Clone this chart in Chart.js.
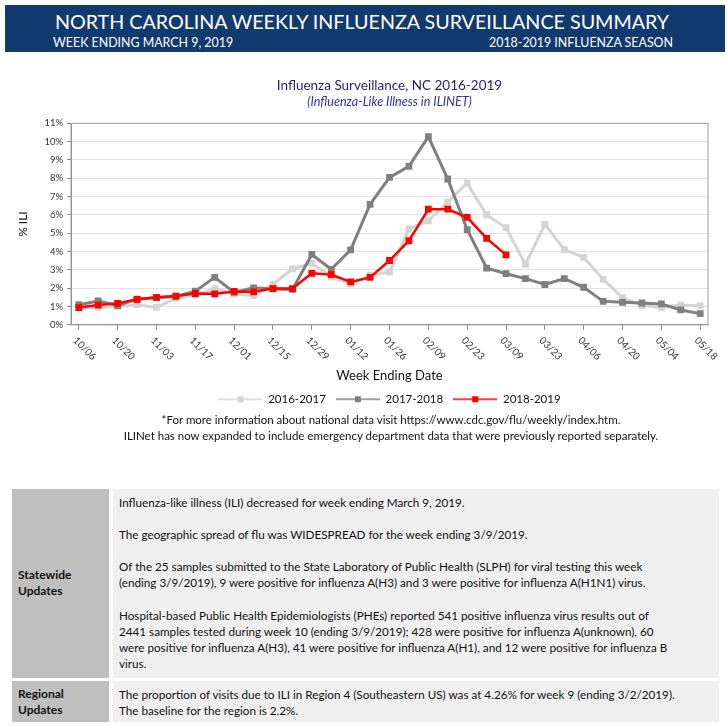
<!DOCTYPE html>
<html>
<head>
<meta charset="utf-8">
<script src="https://cdn.jsdelivr.net/npm/chart.js@4.4.1/dist/chart.umd.min.js"></script>
<style>
  html, body { margin: 0; padding: 0; background: #fff; }
  body { width: 727px; height: 726px; position: relative; overflow: hidden; font-family: Lato, sans-serif; color: #111; }
  .banner { position: absolute; left: 5px; top: 5px; width: 720px; height: 47px; background: #113b6e; color: #fff; }
  .banner .big { position: absolute; left: 0; width: 714px; top: 5px; text-align: center; font-size: 19.7px; }
  .banner .left { position: absolute; left: 48px; top: 30px; font-size: 12.4px; }
  .banner .right { position: absolute; right: 52px; top: 30px; font-size: 12.4px; }
  #chartBox { position: absolute; left: 0; top: 70px; width: 727px; height: 345px; }
  .note { position: absolute; left: 0; width: 782px; text-align: center; font-size: 11.5px; }
  .cell { position: absolute; }
  .gray { background: #bfbfbf; }
  .light { background: #efefef; }
  .txt { position: absolute; font-size: 11.7px; line-height: 16.1px; white-space: nowrap; }
  .txt p { margin: 0 0 16.1px 0; }
  .hd { position: absolute; font-size: 12px; line-height: 16px; font-weight: bold; }
</style>
</head>
<body>
<div class="banner">
  <div class="big">NORTH CAROLINA WEEKLY INFLUENZA SURVEILLANCE SUMMARY</div>
  <div class="left">WEEK ENDING MARCH 9, 2019</div>
  <div class="right">2018-2019 INFLUENZA SEASON</div>
</div>

<div id="chartBox"><canvas id="iliChart"></canvas></div>

<div class="note" style="top:413px">*For more information about national data visit https://www.cdc.gov/flu/weekly/index.htm.</div>
<div class="note" style="top:429px">ILINet has now expanded to include emergency department data that were previously reported separately.</div>

<div class="cell gray" style="left:12px;top:489px;width:97px;height:189px"></div>
<div class="cell light" style="left:113px;top:489px;width:606px;height:189px"></div>
<div class="cell gray" style="left:12px;top:681px;width:97px;height:41px"></div>
<div class="cell light" style="left:113px;top:681px;width:606px;height:41px"></div>

<div class="hd" style="left:18px;top:567px">Statewide<br>Updates</div>
<div class="hd" style="left:18px;top:686px">Regional<br>Updates</div>

<div class="txt" style="left:119px;top:494px">
  <p>Influenza-like illness (ILI) decreased for week ending March 9, 2019.</p>
  <p>The geographic spread of flu was WIDESPREAD for the week ending 3/9/2019.</p>
  <p>Of the 25 samples submitted to the State Laboratory of Public Health (SLPH) for viral testing this week<br>(ending 3/9/2019), 9 were positive for influenza A(H3) and 3 were positive for influenza A(H1N1) virus.</p>
  <p>Hospital-based Public Health Epidemiologists (PHEs) reported 541 positive influenza virus results out of<br>2441 samples tested during week 10 (ending 3/9/2019); 428 were positive for influenza A(unknown), 60<br>were positive for influenza A(H3), 41 were positive for influenza A(H1), and 12 were positive for influenza B<br>virus.</p>
</div>
<div class="txt" style="left:119px;top:686px">
  The proportion of visits due to ILI in Region 4 (Southeastern US) was at 4.26% for week 9 (ending 3/2/2019).<br>The baseline for the region is 2.2%.
</div>

<script>
// 週の終わりの日付 (x軸)
const weeks = ['10/06','10/13','10/20','10/27','11/03','11/10','11/17','11/24','12/01','12/08',
  '12/15','12/22','12/29','01/05','01/12','01/19','01/26','02/02','02/09','02/16','02/23',
  '03/02','03/09','03/16','03/23','03/30','04/06','04/13','04/20','04/27','05/04','05/11','05/18'];

const seasons = ['2016-2017', '2017-2018', '2018-2019'];

// % ILI
const ili1617 = [0.95, 0.95, 1.0, 1.1, 0.95, 1.45, 1.62, 1.98, 1.68, 1.59, 2.22, 3.05, 3.35, 2.61,
  2.22, 2.70, 2.88, 5.23, 5.68, 6.70, 7.75, 6.0, 5.30, 3.30, 5.48, 4.11, 3.68, 2.49, 1.48, 1.05,
  0.94, 1.08, 1.03];
const ili1718 = [1.10, 1.30, 1.05, 1.40, 1.48, 1.55, 1.84, 2.59, 1.77, 2.02, 1.96, 1.93, 3.84, 3.03,
  4.09, 6.58, 8.05, 8.65, 10.27, 7.96, 5.19, 3.10, 2.79, 2.52, 2.20, 2.52, 2.05, 1.28, 1.23, 1.19,
  1.14, 0.81, 0.61];
const ili1819 = [0.94, 1.08, 1.17, 1.39, 1.50, 1.57, 1.71, 1.69, 1.82, 1.80, 1.98, 1.98, 2.81, 2.74,
  2.34, 2.59, 3.51, 4.59, 6.31, 6.31, 5.87, 4.72, 3.82];

const colors = ['#d4d4d4', '#7f7f7f', '#ff0000'];

// 凡例用の線＋四角マーカー
function legendGlyph(color) {
  const c = document.createElement('canvas');
  c.width = 44; c.height = 10;
  const g = c.getContext('2d');
  g.strokeStyle = color;
  g.lineWidth = 1.4;
  g.beginPath(); g.moveTo(0, 5); g.lineTo(44, 5); g.stroke();
  g.fillStyle = color;
  g.fillRect(19, 2, 6, 6);
  return c;
}
const glyphs = colors.map(legendGlyph);

function toPoints(values) {
  return values.map((v, i) => ({ x: i, y: v }));
}

// 45°右下がりの週ラベル
const weekLabels = {
  id: 'weekLabels',
  afterDraw(chart) {
    const sx = chart.scales.x;
    const ctx = chart.ctx;
    ctx.save();
    ctx.font = '10px Lato';
    ctx.fillStyle = '#333';
    ctx.textAlign = 'left';
    ctx.textBaseline = 'middle';
    sx.ticks.forEach(t => {
      const x = sx.getPixelForValue(t.value);
      ctx.save();
      ctx.translate(x - 4, chart.chartArea.bottom + 14);
      ctx.rotate(Math.PI / 4);
      ctx.fillText(weeks[t.value], 0, 0);
      ctx.restore();
    });
    ctx.restore();
  }
};

// プロット領域の枠
const plotFrame = {
  id: 'plotFrame',
  beforeDatasetsDraw(chart) {
    const a = chart.chartArea;
    const ctx = chart.ctx;
    ctx.save();
    ctx.strokeStyle = '#9a9a9a';
    ctx.lineWidth = 1;
    ctx.strokeRect(a.left, a.top, a.right - a.left, a.bottom - a.top);
    ctx.restore();
  }
};

Chart.defaults.font.family = 'Lato';
Chart.defaults.color = '#222';

const series = [ili1617, ili1718, ili1819];
const datasets = series.map((vals, i) => ({
  label: seasons[i],
  data: toPoints(vals),
  borderColor: colors[i],
  backgroundColor: colors[i],
  borderWidth: i === 2 ? 2.5 : 3,
  pointStyle: 'rect',
  pointRadius: 4.8,
  pointHoverRadius: 4.8,
  pointBorderWidth: 0,
  tension: 0,
  order: 2 - i
}));

new Chart(document.getElementById('iliChart'), {
  type: 'line',
  data: { datasets: datasets },
  plugins: [plotFrame, weekLabels],
  options: {
    responsive: true,
    maintainAspectRatio: false,
    animation: false,
    layout: { padding: { left: 10, right: 19, top: 0, bottom: 0 } },
    scales: {
      x: {
        type: 'linear',
        min: -0.4,
        max: weeks.length - 1 + 0.4,
        ticks: {
          stepSize: 2,
          includeBounds: false,
          autoSkip: false,
          minRotation: 45,
          maxRotation: 45,
          color: 'transparent',
          font: { size: 10 },
          padding: 3,
          callback: v => weeks[v]
        },
        grid: { drawOnChartArea: false, tickLength: 5, color: '#888' },
        border: { color: '#888' },
        title: { display: true, text: 'Week Ending Date', font: { size: 13 }, color: '#111', padding: { top: 4, bottom: 0 } }
      },
      y: {
        min: 0,
        max: 11,
        ticks: { stepSize: 1, padding: 4, font: { size: 9.5 }, color: '#333', callback: v => v + '%' },
        grid: { color: '#e3e3e3', tickColor: '#888', tickLength: 4 },
        border: { color: '#888' },
        title: { display: true, text: '% ILI', font: { size: 12 }, color: '#111', padding: { top: 6, bottom: 10 } }
      }
    },
    plugins: {
      title: {
        display: true,
        fullSize: false,
        text: 'Influenza Surveillance, NC 2016-2019',
        color: '#2b1a6e',
        font: { size: 13.5, weight: 'normal' },
        padding: { top: 8, bottom: 0 }
      },
      subtitle: {
        display: true,
        fullSize: false,
        text: '(Influenza-Like Illness in ILINET)',
        color: '#2f2fb0',
        font: { size: 12.6, style: 'italic' },
        padding: { top: 0, bottom: 14 }
      },
      legend: {
        position: 'bottom',
        fullSize: false,
        labels: {
          usePointStyle: true,
          pointStyleWidth: 44,
          padding: 10,
          font: { size: 11.5 },
          color: '#111',
          sort: (a, b) => a.datasetIndex - b.datasetIndex,
          generateLabels: chart => {
            const items = Chart.defaults.plugins.legend.labels.generateLabels(chart);
            items.forEach(it => { it.pointStyle = glyphs[it.datasetIndex]; });
            return items;
          }
        }
      },
      tooltip: { enabled: false }
    }
  }
});
</script>
</body>
</html>
